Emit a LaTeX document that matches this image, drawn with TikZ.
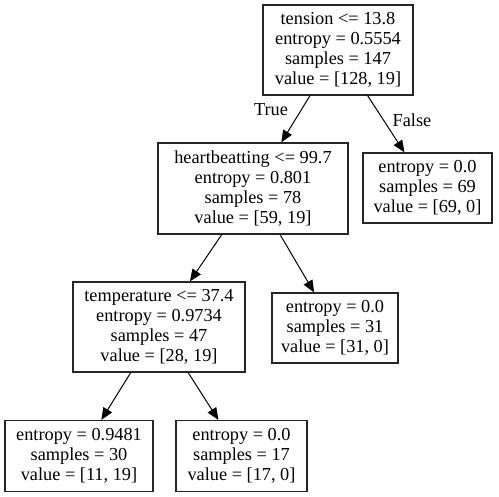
\documentclass[tikz,border=0pt]{standalone}
\usepackage{fontspec}
\setmainfont{Liberation Serif}
\usetikzlibrary{arrows.meta}
\begin{document}
\begin{tikzpicture}[x=1pt,y=-1pt,
  treebox/.style={draw=black!85, line width=1.2pt, rectangle, inner sep=0pt, align=center,
    font=\fontsize{18.3}{20}\selectfont},
  edgearrow/.style={draw, line width=1pt, -{Triangle[length=12pt,width=10pt]}},
  lbl/.style={font=\fontsize{18.3}{20}\selectfont, inner sep=0pt}]
\useasboundingbox (0,0) rectangle (499,497);
\node[treebox, minimum width=150, minimum height=90] (root) at (338,50)
  {tension <= 13.8\\entropy = 0.5554\\samples = 147\\value = [128, 19]};
\node[treebox, minimum width=190, minimum height=91] (hb) at (253,188.5)
  {heartbeatting <= 99.7\\entropy = 0.801\\samples = 78\\value = [59, 19]};
\node[treebox, minimum width=129, minimum height=70] (f69) at (427.5,188)
  {entropy = 0.0\\samples = 69\\value = [69, 0]};
\node[treebox, minimum width=172, minimum height=90] (tp) at (159,327)
  {temperature <= 37.4\\entropy = 0.9734\\samples = 47\\value = [28, 19]};
\node[treebox, minimum width=126, minimum height=70] (l31) at (335,328)
  {entropy = 0.0\\samples = 31\\value = [31, 0]};
\node[treebox, minimum width=148, minimum height=71] (l30) at (79,456)
  {entropy = 0.9481\\samples = 30\\value = [11, 19]};
\node[treebox, minimum width=131, minimum height=71] (l17) at (241.5,456)
  {entropy = 0.0\\samples = 17\\value = [17, 0]};
\draw[edgearrow] (root) -- (hb);
\draw[edgearrow] (root) -- (f69);
\draw[edgearrow] (hb) -- (tp);
\draw[edgearrow] (hb) -- (l31);
\draw[edgearrow] (tp) -- (l30);
\draw[edgearrow] (tp) -- (l17);
\node[lbl] (ltrue) at (271,110) {True};
\node[lbl] (lfalse) at (412,120) {False};
\end{tikzpicture}
\end{document}
